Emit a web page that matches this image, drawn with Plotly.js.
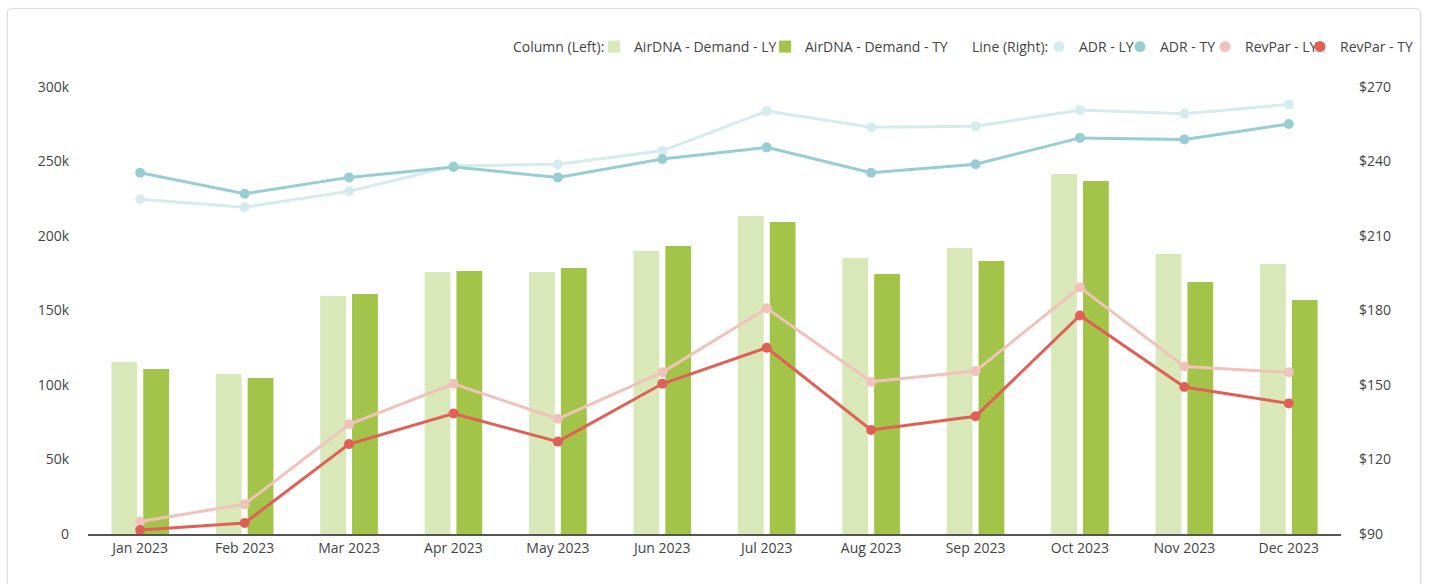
<!DOCTYPE html>
<html>
<head>
<meta charset="utf-8">
<script src="https://cdn.plot.ly/plotly-3.0.1.min.js"></script>
<style>
  html, body { margin: 0; padding: 0; background: #ffffff; width: 1429px; height: 584px; overflow: hidden; }
  #card { position: absolute; left: 7px; top: 8px; width: 1412px; height: 600px; border: 1px solid #dcdcdc; border-radius: 5px; box-shadow: 0 1px 3px rgba(0,0,0,0.12); background: #fff; }
  #chart { position: absolute; left: 0; top: 0; width: 1429px; height: 584px; }
</style>
</head>
<body>
<div id="card"></div>
<div id="chart"></div>
<script>
const months = ["Jan 2023","Feb 2023","Mar 2023","Apr 2023","May 2023","Jun 2023","Jul 2023","Aug 2023","Sep 2023","Oct 2023","Nov 2023","Dec 2023"];
const demandLY = [115400,107400,159700,175800,175800,189900,213400,185200,191900,241600,187900,181200];
const demandTY = [110700,104700,161100,176500,178500,193300,209400,174500,183200,236900,169100,157000];
const adrLY = [224.8,221.6,228.0,238.2,238.9,244.3,260.3,253.8,254.2,260.7,259.2,263.0];
const adrTY = [235.5,227.0,233.6,237.8,233.6,241.0,245.7,235.5,238.9,249.5,248.9,255.1];
const revparLY = [95.0,102.0,134.2,150.5,136.4,155.1,180.9,151.3,155.6,189.3,157.4,155.1];
const revparTY = [91.6,94.4,126.2,138.5,127.2,150.5,165.0,131.9,137.4,178.0,149.2,142.6];
const leftTicks = [0,50000,100000,150000,200000,250000,300000];
const leftTickText = ["0","50k","100k","150k","200k","250k","300k"];
const rightTicks = [90,120,150,180,210,240,270];
const rightTickText = ["$90","$120","$150","$180","$210","$240","$270"];
const columnLegendTitle = "Column (Left):";
const lineLegendTitle = "Line (Right):";

const C = { dLY:"#d9e8b8", dTY:"#a2c449", aLY:"#d5ecee", aTY:"#97ced4", rLY:"#f1c2bc", rTY:"#e06055" };

// plot area in px (for converting legend placements to paper coords)
const PL = 88, PW = 1253, PB = 534, PH = 447;
const px2x = p => (p - PL) / PW;
const legY = (PB - 47) / PH;

function lineTrace(y, color){
  return { type:"scatter", mode:"lines+markers", x:months, y:y, yaxis:"y2",
    line:{color:color, width:3}, marker:{color:color, size:10}, showlegend:false, hoverinfo:"y" };
}
function legendDot(name, color, leg){
  return { type:"scatter", mode:"markers", x:[null], y:[null], yaxis:"y2", name:name,
    marker:{color:color, size:11}, legend:leg, showlegend:true, hoverinfo:"skip" };
}

const data = [
  { type:"bar", x:months, y:demandLY, name:"AirDNA - Demand - LY", marker:{color:C.dLY}, legend:"legend" },
  { type:"bar", x:months, y:demandTY, name:"AirDNA - Demand - TY", marker:{color:C.dTY}, legend:"legend2" },
  lineTrace(adrLY, C.aLY),
  lineTrace(adrTY, C.aTY),
  lineTrace(revparLY, C.rLY),
  lineTrace(revparTY, C.rTY),
  legendDot("ADR - LY", C.aLY, "legend3"),
  legendDot("ADR - TY", C.aTY, "legend4"),
  legendDot("RevPar - LY", C.rLY, "legend5"),
  legendDot("RevPar - TY", C.rTY, "legend6")
];

const tf = { family:"'Open Sans', sans-serif", size:14, color:"#444" };
function leg(symbolPx){
  return { orientation:"h", x:px2x(symbolPx - 20), xanchor:"left", y:legY, yanchor:"middle",
           font:tf, bgcolor:"rgba(0,0,0,0)", itemclick:false, itemdoubleclick:false };
}

const layout = {
  width:1429, height:584,
  margin:{l:88, r:88, t:87, b:50, autoexpand:false},
  paper_bgcolor:"rgba(0,0,0,0)", plot_bgcolor:"rgba(0,0,0,0)",
  font: tf,
  barmode:"group", bargap:0.39, bargroupgap:0.19,
  xaxis:{ type:"category", range:[-0.5, 11.5], showgrid:false, zeroline:false, showline:true, linecolor:"#555", linewidth:1.5,
          ticks:"", tickfont:tf, fixedrange:true },
  yaxis:{ range:[0,300000], tickvals:leftTicks, ticktext:leftTickText, showgrid:false, zeroline:false,
          showline:false, ticks:"", ticklabelstandoff:18, tickfont:tf },
  yaxis2:{ overlaying:"y", side:"right", range:[90,270], tickvals:rightTicks, ticktext:rightTickText,
          showgrid:false, zeroline:false, showline:false, ticks:"", ticklabelstandoff:17, tickfont:tf },
  legend: leg(614),
  legend2: leg(785),
  legend3: leg(1059),
  legend4: leg(1140),
  legend5: leg(1225),
  legend6: leg(1320),
  annotations:[
    { text:columnLegendTitle, xref:"paper", yref:"paper", x:px2x(606), y:legY, xanchor:"right", yanchor:"middle", showarrow:false, font:tf },
    { text:lineLegendTitle, xref:"paper", yref:"paper", x:px2x(1050), y:legY, xanchor:"right", yanchor:"middle", showarrow:false, font:tf }
  ],
  hovermode:"x"
};

Plotly.newPlot("chart", data, layout, {displayModeBar:false, responsive:false});
</script>
</body>
</html>
